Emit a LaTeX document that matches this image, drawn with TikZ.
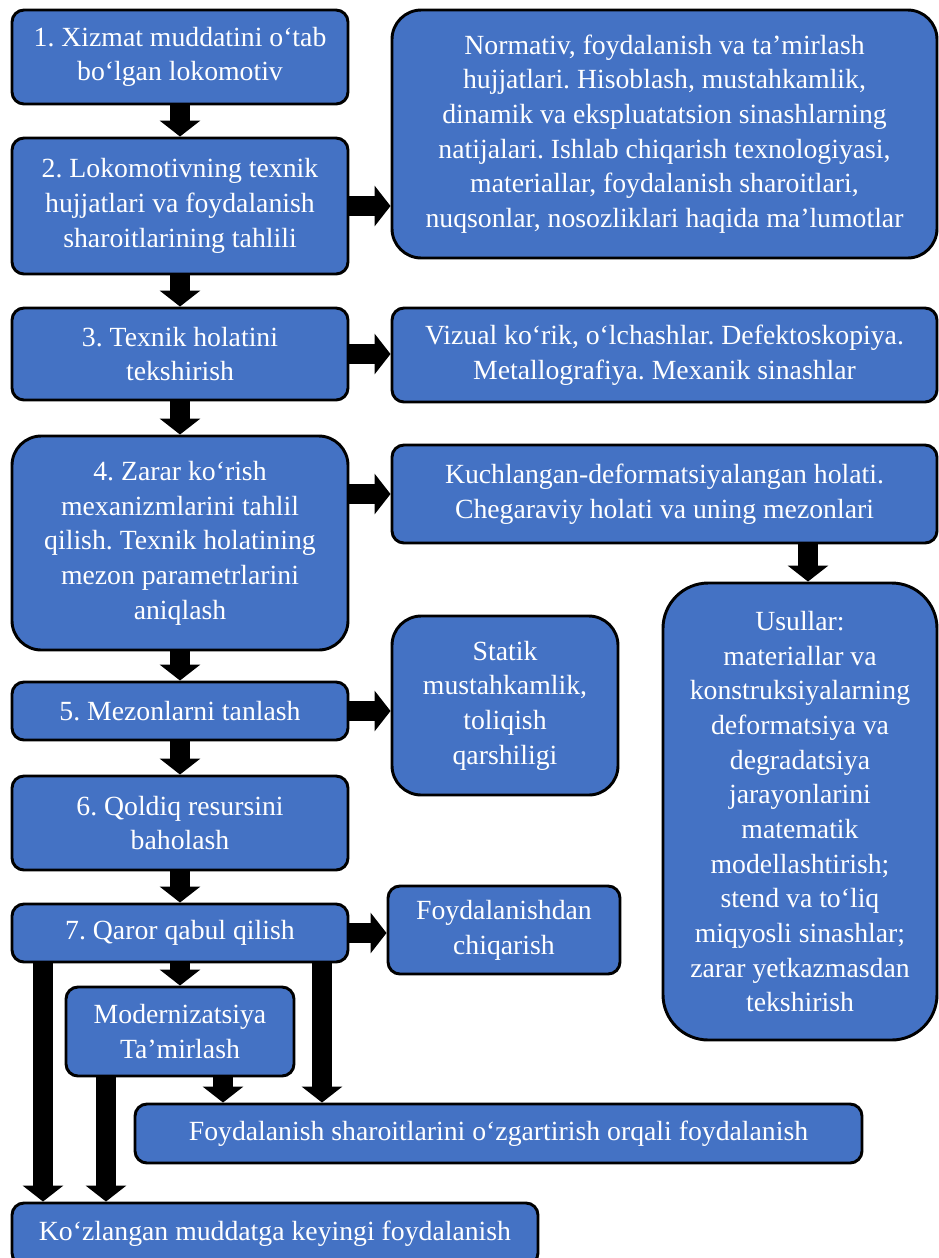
\documentclass[tikz,border=0pt]{standalone}
\usepackage{fontspec}
\setmainfont{Liberation Serif}
\usetikzlibrary{arrows.meta}
\definecolor{boxblue}{HTML}{4472C4}
\frenchspacing
\tikzset{
  box/.style={draw=black, line width=2.2pt, fill=boxblue, text=white, align=center,
    inner sep=0pt, rounded corners=9pt, font=\fontsize{20.8}{26}\selectfont},
  bigr/.style={rounded corners=22pt},
  hugr/.style={rounded corners=34pt},
  barrow/.style={black, line width=15pt, -{Triangle[width=30pt,length=12pt]}}
}
\begin{document}
\begin{tikzpicture}[x=0.75pt,y=-0.75pt]
\useasboundingbox (0,0) rectangle (939,1258);
\clip (0,0) rectangle (939,1258);
\fill[white] (0,0) rectangle (939,1258);
% left column
\node[box, minimum width=252pt, minimum height=70.5pt] (b1) at (180,57) {1. Xizmat muddatini o‘tab\\bo‘lgan lokomotiv};
\node[box, minimum width=252pt, minimum height=102pt] (b2) at (180,206) {2. Lokomotivning texnik\\hujjatlari va foydalanish\\sharoitlarining tahlili};
\node[box, minimum width=252pt, minimum height=69pt] (b3) at (180,354) {3. Texnik holatini\\tekshirish};
\node[box, bigr, minimum width=252pt, minimum height=160.5pt] (b4) at (180,543) {4. Zarar ko‘rish\\mexanizmlarini tahlil\\qilish. Texnik holatining\\mezon parametrlarini\\aniqlash};
\node[box, minimum width=252pt, minimum height=43.5pt] (b5) at (180,711) {5. Mezonlarni tanlash};
\node[box, minimum width=252pt, minimum height=70.5pt] (b6) at (180,823) {6. Qoldiq resursini\\baholash};
\node[box, minimum width=252pt, minimum height=43.5pt] (b7) at (180,933) {7. Qaror qabul qilish};
% right column
\node[box, bigr, minimum width=408.75pt, minimum height=186pt] (ra) at (664.5,134) {Normativ, foydalanish va ta’mirlash\\hujjatlari. Hisoblash, mustahkamlik,\\dinamik va ekspluatatsion sinashlarning\\natijalari. Ishlab chiqarish texnologiyasi,\\materiallar, foydalanish sharoitlari,\\nuqsonlar, nosozliklari haqida ma’lumotlar};
\node[box, minimum width=408.75pt, minimum height=70.5pt] (rb) at (664.5,355) {Vizual ko‘rik, o‘lchashlar. Defektoskopiya.\\Metallografiya. Mexanik sinashlar};
\node[box, minimum width=408.75pt, minimum height=73.5pt] (rc) at (664.5,494) {Kuchlangan-deformatsiyalangan holati.\\Chegaraviy holati va uning mezonlari};
\node[box, hugr, minimum width=205.5pt, minimum height=342.75pt] (us) at (800,811.5) {Usullar:\\materiallar va\\konstruksiyalarning\\deformatsiya va\\degradatsiya\\jarayonlarini\\matematik\\modellashtirish;\\stend va to‘liq\\miqyosli sinashlar;\\zarar yetkazmasdan\\tekshirish};
\node[box, bigr, minimum width=169.5pt, minimum height=134.25pt] (st) at (505,705.5) {Statik\\mustahkamlik,\\toliqish\\qarshiligi};
\node[box, minimum width=174pt, minimum height=66pt] (fc) at (504,930) {Foydalanishdan\\chiqarish};
% bottom
\node[box, minimum width=171pt, minimum height=66.75pt] (md) at (180,1031.5) {Modernizatsiya\\Ta’mirlash};
\node[box, minimum width=545.25pt, minimum height=44.25pt] (fs) at (498.5,1133.5) {Foydalanish sharoitlarini o‘zgartirish orqali foydalanish};
\node[box, minimum width=394.5pt, minimum height=46.5pt] (bt) at (275,1234) {Ko‘zlangan muddatga keyingi foydalanish};
% coordinates for vertical arrows
\coordinate (xa) at (43,0);
\coordinate (xb) at (106,0);
\coordinate (xc) at (223,0);
\coordinate (xd) at (322,0);
\coordinate (xe) at (808,0);
% arrows left column
\draw[barrow] (b1.south) -- (b2.north);
\draw[barrow] (b2.south) -- (b3.north);
\draw[barrow] (b3.south) -- (b4.north);
\draw[barrow] (b4.south) -- (b5.north);
\draw[barrow] (b5.south) -- (b6.north);
\draw[barrow] (b6.south) -- (b7.north);
% horizontal arrows
\draw[barrow] (b2.east) -- (b2.east -| ra.west);
\draw[barrow] (b3.east) -- (b3.east -| rb.west);
\draw[barrow] (rc.west -| b4.east) -- (rc.west);
\draw[barrow] (b5.east) -- (b5.east -| st.west);
\draw[barrow] (b7.east) -- (b7.east -| fc.west);
\draw[barrow] (rc.south -| xe) -- (us.north -| xe);
% bottom arrows
\draw[barrow] (b7.south -| xa) -- (bt.north -| xa);
\draw[barrow] (b7.south) -- (md.north);
\draw[barrow] (b7.south -| xd) -- (fs.north -| xd);
\draw[barrow] (md.south -| xc) -- (fs.north -| xc);
\draw[barrow] (md.south -| xb) -- (bt.north -| xb);
\end{tikzpicture}
\end{document}
